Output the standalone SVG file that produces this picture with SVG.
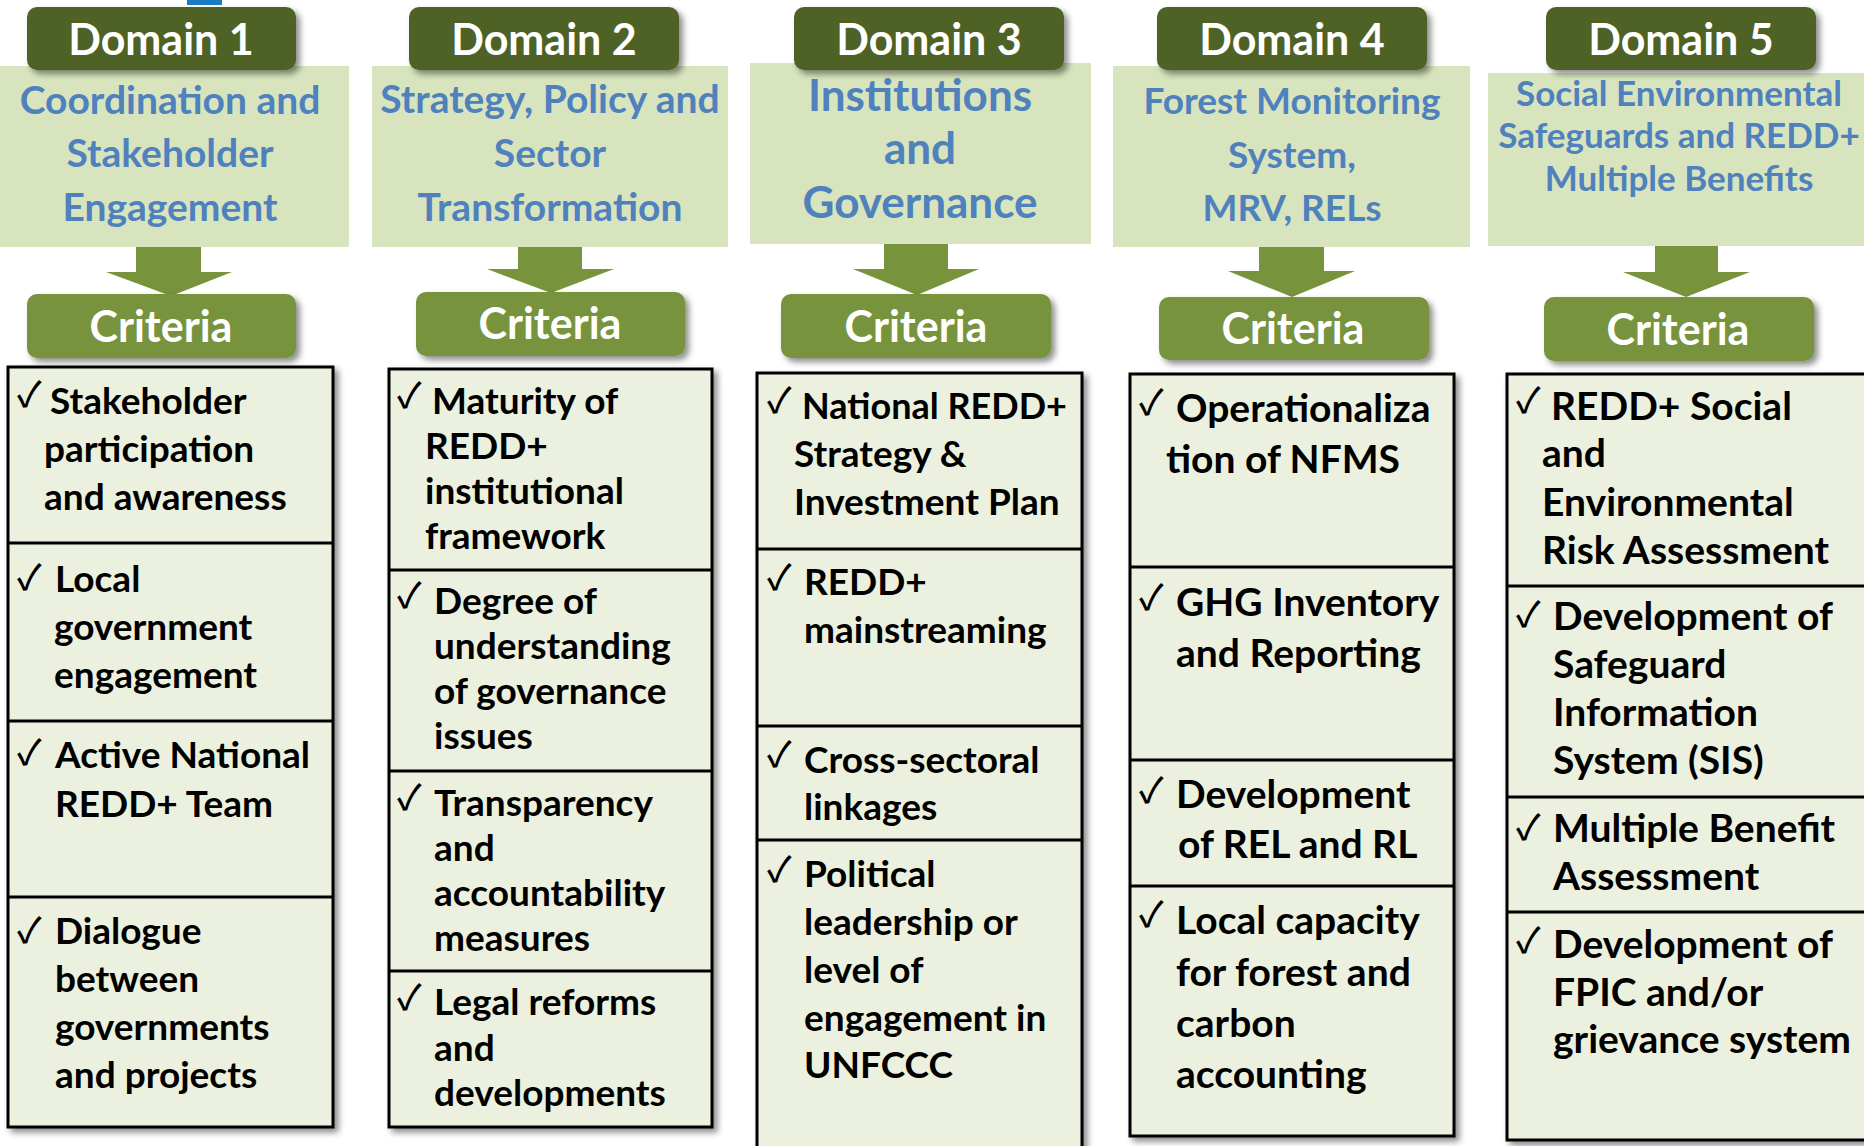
<svg xmlns="http://www.w3.org/2000/svg" width="1864" height="1146" viewBox="0 0 1864 1146">
<defs>
<filter id="sh" x="-10%" y="-10%" width="130%" height="130%">
<feDropShadow dx="4" dy="4" stdDeviation="3" flood-color="#000" flood-opacity="0.45"/>
</filter>
<style>
text{font-family:Lato,"Liberation Sans",sans-serif;font-weight:700}
.hdr{fill:#4F6228;filter:url(#sh)}
.hdrt{font-size:43px;fill:#fff;text-anchor:middle}
.lbox{fill:#D7E4BD}
.ttl{fill:#4F81BD;text-anchor:middle}
.crit{fill:#77933C;filter:url(#sh)}
.critt{font-size:43px;fill:#fff;text-anchor:middle}
.tbl{fill:#EBF1DE;stroke:#000;stroke-width:3;filter:url(#sh)}
.dv{stroke:#000;stroke-width:3}
.it{font-size:37px;fill:#000}
.it2{font-size:39px;fill:#000}
.ck{font-family:"Noto Sans CJK JP","DejaVu Sans",sans-serif;font-weight:500;font-size:35px;fill:#000}
.arr{fill:#77933C}
</style>
</defs>
<rect x="187" y="0" width="35" height="5" fill="#1B7DC1"/>

<g id="connectors">
<polygon class="arr" points="136,246 201,246 201,272 232,272 171,296 106,272 136,272"/>
<polygon class="arr" points="518,246 582,246 582,269 614,269 551,293 487,269 518,269"/>
<polygon class="arr" points="884,243 948,243 948,269 979,269 917,295 853,269 884,269"/>
<polygon class="arr" points="1259,246 1324,246 1324,271 1355,271 1292,297 1228,271 1259,271"/>
<polygon class="arr" points="1655,245 1718,245 1718,272 1750,272 1686,297 1623,272 1655,272"/>
</g>

<g id="domain1">
<rect class="lbox" x="0" y="66" width="349" height="181"/>
<rect class="hdr" x="27" y="7" width="269" height="63" rx="10"/>
<text class="hdrt" x="161" y="55">Domain 1</text>
<text class="ttl" font-size="39" x="170" y="114">Coordination and</text>
<text class="ttl" font-size="39" x="170" y="167">Stakeholder</text>
<text class="ttl" font-size="39" x="170" y="221">Engagement</text>
</g>
<g id="criteria1">
<rect class="crit" x="27" y="294" width="269" height="64" rx="10"/>
<text class="critt" x="161" y="342">Criteria</text>
</g>
<g id="table1">
<rect class="tbl" x="8" y="367" width="325" height="760"/>
<line class="dv" x1="8" y1="543" x2="333" y2="543"/>
<line class="dv" x1="8" y1="721" x2="333" y2="721"/>
<line class="dv" x1="8" y1="897" x2="333" y2="897"/>
<text class="ck" x="17" y="407">✓</text>
<text class="it" x="50" y="414">Stakeholder</text>
<text class="it" x="44" y="462">participation</text>
<text class="it" x="44" y="510">and awareness</text>
<text class="ck" x="17" y="590">✓</text>
<text class="it" x="55" y="592">Local</text>
<text class="it" x="54" y="640">government</text>
<text class="it" x="54" y="688">engagement</text>
<text class="ck" x="17" y="765">✓</text>
<text class="it" x="55" y="768">Active National</text>
<text class="it" x="55" y="817">REDD+ Team</text>
<text class="ck" x="17" y="943">✓</text>
<text class="it" x="55" y="944">Dialogue</text>
<text class="it" x="55" y="992">between</text>
<text class="it" x="55" y="1040">governments</text>
<text class="it" x="55" y="1088">and projects</text>
</g>

<g id="domain2">
<rect class="lbox" x="372" y="66" width="356" height="181"/>
<rect class="hdr" x="409" y="7" width="270" height="63" rx="10"/>
<text class="hdrt" x="544" y="55">Domain 2</text>
<text class="ttl" font-size="39" x="550" y="113">Strategy, Policy and</text>
<text class="ttl" font-size="39" x="550" y="167">Sector</text>
<text class="ttl" font-size="39" x="550" y="221">Transformation</text>
</g>
<g id="criteria2">
<rect class="crit" x="416" y="292" width="269" height="64" rx="10"/>
<text class="critt" x="550" y="339">Criteria</text>
</g>
<g id="table2">
<rect class="tbl" x="389" y="369" width="323" height="758"/>
<line class="dv" x1="389" y1="570" x2="712" y2="570"/>
<line class="dv" x1="389" y1="771" x2="712" y2="771"/>
<line class="dv" x1="389" y1="971" x2="712" y2="971"/>
<text class="ck" x="397" y="408">✓</text>
<text class="it" x="432" y="414">Maturity of</text>
<text class="it" x="425" y="459">REDD+</text>
<text class="it" x="425" y="504">institutional</text>
<text class="it" x="425" y="549">framework</text>
<text class="ck" x="397" y="608">✓</text>
<text class="it" x="434" y="614">Degree of</text>
<text class="it" x="434" y="659">understanding</text>
<text class="it" x="434" y="704">of governance</text>
<text class="it" x="434" y="749">issues</text>
<text class="ck" x="397" y="810">✓</text>
<text class="it" x="434" y="816">Transparency</text>
<text class="it" x="434" y="861">and</text>
<text class="it" x="434" y="906">accountability</text>
<text class="it" x="434" y="951">measures</text>
<text class="ck" x="397" y="1010">✓</text>
<text class="it" x="434" y="1015">Legal reforms</text>
<text class="it" x="434" y="1061">and</text>
<text class="it" x="434" y="1106">developments</text>
</g>

<g id="domain3">
<rect class="lbox" x="750" y="63" width="341" height="181"/>
<rect class="hdr" x="794" y="7" width="270" height="63" rx="10"/>
<text class="hdrt" x="929" y="55">Domain 3</text>
<text class="ttl" font-size="44" x="920" y="111">Institutions</text>
<text class="ttl" font-size="44" x="920" y="164">and</text>
<text class="ttl" font-size="44" x="920" y="218">Governance</text>
</g>
<g id="criteria3">
<rect class="crit" x="781" y="294" width="270" height="64" rx="10"/>
<text class="critt" x="916" y="342">Criteria</text>
</g>
<g id="table3">
<rect class="tbl" x="757" y="373" width="325" height="790"/>
<line class="dv" x1="757" y1="549" x2="1082" y2="549"/>
<line class="dv" x1="757" y1="726" x2="1082" y2="726"/>
<line class="dv" x1="757" y1="840" x2="1082" y2="840"/>
<text class="ck" x="767" y="413">✓</text>
<text class="it" x="802" y="419" style="font-size:36px">National REDD+</text>
<text class="it" x="794" y="467">Strategy &amp;</text>
<text class="it" x="794" y="515">Investment Plan</text>
<text class="ck" x="767" y="590">✓</text>
<text class="it" x="804" y="595">REDD+</text>
<text class="it" x="804" y="643">mainstreaming</text>
<text class="ck" x="767" y="767">✓</text>
<text class="it" x="804" y="773">Cross-sectoral</text>
<text class="it" x="804" y="820">linkages</text>
<text class="ck" x="767" y="882">✓</text>
<text class="it" x="804" y="887">Political</text>
<text class="it" x="804" y="935">leadership or</text>
<text class="it" x="804" y="983">level of</text>
<text class="it" x="804" y="1031">engagement in</text>
<text class="it" x="804" y="1078">UNFCCC</text>
</g>

<g id="domain4">
<rect class="lbox" x="1113" y="66" width="357" height="181"/>
<rect class="hdr" x="1157" y="7" width="270" height="63" rx="10"/>
<text class="hdrt" x="1292" y="55">Domain 4</text>
<text class="ttl" font-size="37" x="1292" y="114">Forest Monitoring</text>
<text class="ttl" font-size="37" x="1292" y="168">System,</text>
<text class="ttl" font-size="37" x="1292" y="221">MRV, RELs</text>
</g>
<g id="criteria4">
<rect class="crit" x="1159" y="297" width="270" height="63" rx="10"/>
<text class="critt" x="1293" y="344">Criteria</text>
</g>
<g id="table4">
<rect class="tbl" x="1130" y="374" width="324" height="762"/>
<line class="dv" x1="1130" y1="567" x2="1454" y2="567"/>
<line class="dv" x1="1130" y1="760" x2="1454" y2="760"/>
<line class="dv" x1="1130" y1="886" x2="1454" y2="886"/>
<text class="ck" x="1139" y="415">✓</text>
<text class="it2" x="1176" y="422">Operationaliza</text>
<text class="it2" x="1166" y="473">tion of NFMS</text>
<text class="ck" x="1139" y="610">✓</text>
<text class="it2" x="1176" y="616">GHG Inventory</text>
<text class="it2" x="1176" y="667">and Reporting</text>
<text class="ck" x="1139" y="803">✓</text>
<text class="it2" x="1176" y="808">Development</text>
<text class="it2" x="1178" y="858">of REL and RL</text>
<text class="ck" x="1139" y="927">✓</text>
<text class="it2" x="1176" y="934">Local capacity</text>
<text class="it2" x="1176" y="986">for forest and</text>
<text class="it2" x="1176" y="1037">carbon</text>
<text class="it2" x="1176" y="1088">accounting</text>
</g>

<g id="domain5">
<rect class="lbox" x="1488" y="73" width="380" height="173"/>
<rect class="hdr" x="1546" y="7" width="270" height="63" rx="10"/>
<text class="hdrt" x="1681" y="55">Domain 5</text>
<text class="ttl" font-size="35" x="1679" y="106">Social Environmental</text>
<text class="ttl" font-size="35" x="1679" y="148">Safeguards and REDD+</text>
<text class="ttl" font-size="35" x="1679" y="191">Multiple Benefits</text>
</g>
<g id="criteria5">
<rect class="crit" x="1544" y="297" width="270" height="64" rx="10"/>
<text class="critt" x="1678" y="345">Criteria</text>
</g>
<g id="table5">
<rect class="tbl" x="1507" y="374" width="370" height="766"/>
<line class="dv" x1="1507" y1="586" x2="1877" y2="586"/>
<line class="dv" x1="1507" y1="797" x2="1877" y2="797"/>
<line class="dv" x1="1507" y1="912" x2="1877" y2="912"/>
<text class="ck" x="1516" y="413">✓</text>
<text class="it2" x="1551" y="420">REDD+ Social</text>
<text class="it2" x="1542" y="467">and</text>
<text class="it2" x="1542" y="516">Environmental</text>
<text class="it2" x="1542" y="564">Risk Assessment</text>
<text class="ck" x="1516" y="627">✓</text>
<text class="it2" x="1553" y="630">Development of</text>
<text class="it2" x="1553" y="678">Safeguard</text>
<text class="it2" x="1553" y="726">Information</text>
<text class="it2" x="1553" y="774">System (SIS)</text>
<text class="ck" x="1516" y="840">✓</text>
<text class="it2" x="1553" y="842">Multiple Benefit</text>
<text class="it2" x="1553" y="890">Assessment</text>
<text class="ck" x="1516" y="953">✓</text>
<text class="it2" x="1553" y="958">Development of</text>
<text class="it2" x="1553" y="1006">FPIC and/or</text>
<text class="it2" x="1553" y="1053">grievance system</text>
</g>
</svg>
